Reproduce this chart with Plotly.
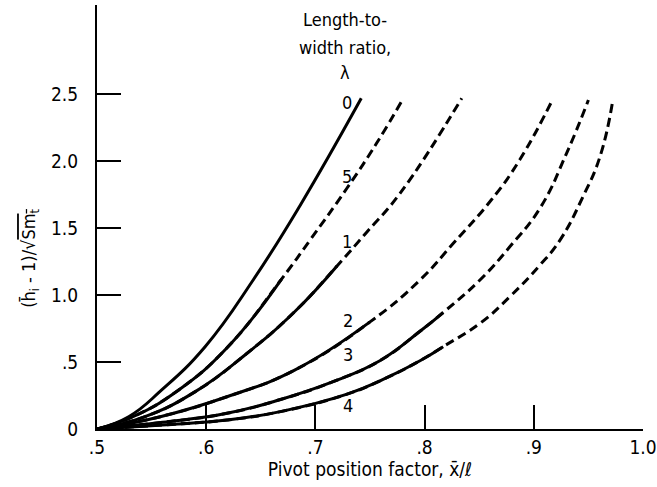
import plotly.graph_objects as go

# ---- data ----
x_tickvals = [0.5, 0.6, 0.7, 0.8, 0.9, 1.0]
x_ticktext = [".5", ".6", ".7", ".8", ".9", "1.0"]
y_tickvals = [0, 0.5, 1.0, 1.5, 2.0, 2.5]
y_ticktext = ["0", ".5", "1.0", "1.5", "2.0", "2.5"]

# each curve: x, y and the number of leading points drawn solid (rest dashed)
l0_x = [0.5, 0.529, 0.559, 0.599, 0.643, 0.686, 0.742]
l0_y = [0.0, 0.092, 0.29, 0.615, 1.113, 1.67, 2.47]
l0_solid_n = 7

l5_x = [0.5, 0.533, 0.5745, 0.620, 0.669, 0.695, 0.729, 0.756, 0.7805]
l5_y = [0.0, 0.092, 0.29, 0.615, 1.12, 1.41, 1.8, 2.134, 2.47]
l5_solid_n = 5

l1_x = [0.5, 0.544, 0.59, 0.6355, 0.681, 0.72, 0.747, 0.7775, 0.834]
l1_y = [0.0, 0.092, 0.279, 0.553, 0.876, 1.22, 1.47, 1.76, 2.47]
l1_solid_n = 6

l2_x = [0.5, 0.558, 0.619, 0.681, 0.75, 0.7958, 0.8263, 0.861, 0.887, 0.917]
l2_y = [0.0, 0.092, 0.241, 0.44, 0.80, 1.113, 1.387, 1.71, 2.009, 2.457]
l2_solid_n = 5

l3_x = [0.5, 0.56, 0.619, 0.668, 0.715, 0.759, 0.7958, 0.817, 0.8507, 0.878, 0.9057, 0.93, 0.95]
l3_y = [0.0, 0.05, 0.117, 0.22, 0.35, 0.51, 0.73, 0.87, 1.113, 1.361, 1.65, 2.059, 2.457]
l3_solid_n = 8

l4_x = [0.5, 0.56, 0.619, 0.668, 0.729, 0.762, 0.7958, 0.817, 0.8507, 0.878, 0.9057, 0.924, 0.945, 0.9606, 0.972]
l4_y = [0.0, 0.03, 0.067, 0.13, 0.26, 0.37, 0.51, 0.615, 0.789, 0.988, 1.225, 1.411, 1.735, 2.034, 2.437]
l4_solid_n = 8

curve_names = ["0", "5", "1", "2", "3", "4"]
label_x = [0.7287, 0.7287, 0.7287, 0.7302, 0.7302, 0.7302]
label_y = [2.44, 1.884, 1.399, 0.814, 0.553, 0.179]

legend_lines = ["Length-to-", "width ratio,", "λ"]
legend_line_y = [3.055, 2.853, 2.666]
legend_x = 0.727

y_title_text = "(h\u0304<sub>i</sub> - 1)/\u221a<span style='text-decoration:overline'>Sm<sub>t</sub></span>"
x_title_text = "Pivot position factor, x\u0304/\u2113"

FONT = "DejaVu Sans Condensed, Liberation Sans Narrow, Roboto, sans-serif"

series = [
    (l0_x, l0_y, l0_solid_n),
    (l5_x, l5_y, l5_solid_n),
    (l1_x, l1_y, l1_solid_n),
    (l2_x, l2_y, l2_solid_n),
    (l3_x, l3_y, l3_solid_n),
    (l4_x, l4_y, l4_solid_n),
]

fig = go.Figure()
for name, (cx, cy, n) in zip(curve_names, series):
    if n < len(cx):
        # whole curve dashed underneath; solid part is drawn over it
        fig.add_trace(go.Scatter(
            x=cx, y=cy, mode="lines", name="λ = " + name + " (dashed)",
            line=dict(color="black", width=3, shape="spline", smoothing=1.3,
                      dash="9px,5px"),
            showlegend=False, hoverinfo="skip"))
    fig.add_trace(go.Scatter(
        x=cx[:n], y=cy[:n], mode="lines", name="λ = " + name,
        line=dict(color="black", width=3, shape="spline", smoothing=1.3),
        showlegend=False, hoverinfo="skip"))

annotations = []
for t, lx, ly in zip(curve_names, label_x, label_y):
    annotations.append(dict(x=lx, y=ly, xref="x", yref="y", text=t,
                            showarrow=False, font=dict(size=18, color="black", family=FONT),
                            xanchor="center", yanchor="middle"))
for t, ly in zip(legend_lines, legend_line_y):
    annotations.append(dict(x=legend_x, y=ly, xref="x", yref="y", text=t,
                            showarrow=False, font=dict(size=18, color="black", family=FONT),
                            xanchor="center", yanchor="middle"))
# y-axis title (placed as a rotated annotation so it sits where the reference has it)
annotations.append(dict(x=-0.123, y=1.277, xref="paper", yref="y", text=y_title_text,
                        textangle=-90, showarrow=False,
                        font=dict(size=18, color="black", family=FONT),
                        xanchor="center", yanchor="middle"))

fig.update_layout(
    width=657, height=487,
    margin=dict(l=97, r=14, t=5, b=58, autoexpand=False),
    paper_bgcolor="white", plot_bgcolor="white",
    font=dict(family=FONT, size=18, color="black"),
    annotations=annotations,
    showlegend=False,
)
fig.update_xaxes(
    automargin=False,
    range=[0.5, 1.0], showgrid=False, zeroline=False,
    showline=True, linecolor="black", linewidth=2,
    ticks="inside", ticklen=24, tickwidth=2, tickcolor="black",
    tickvals=x_tickvals, ticktext=x_ticktext,
    tickfont=dict(size=19, family=FONT),
    title=dict(text=x_title_text, font=dict(size=19, family=FONT), standoff=4),
)
fig.update_yaxes(
    automargin=False,
    range=[0, 3.167], showgrid=False, zeroline=False,
    showline=True, linecolor="black", linewidth=2,
    ticks="inside", ticklen=24, tickwidth=2, tickcolor="black",
    tickvals=y_tickvals, ticktext=y_ticktext,
    tickfont=dict(size=19, family=FONT),
    ticklabelstandoff=13,
)

fig.write_html("out.html", config={"displayModeBar": False},
               post_script="document.body.style.margin='0';")
